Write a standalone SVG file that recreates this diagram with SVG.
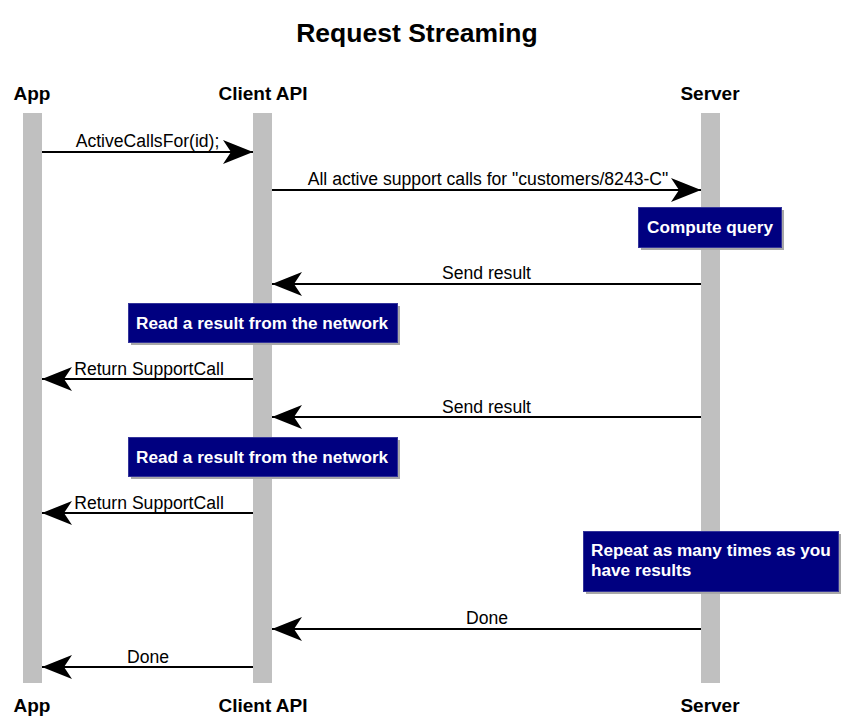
<svg xmlns="http://www.w3.org/2000/svg" width="851" height="723" viewBox="0 0 851 723">
<style>
.title{font-family:"Liberation Sans",Arial,sans-serif;font-weight:bold;font-size:26.5px;fill:#000;text-anchor:middle}
.part{font-family:"Liberation Sans",Arial,sans-serif;font-weight:bold;font-size:19px;fill:#000;text-anchor:middle}
.lbl{font-family:"Liberation Sans",Arial,sans-serif;font-size:17.6px;fill:#000;text-anchor:middle}
.note{font-family:"Liberation Sans",Arial,sans-serif;font-weight:bold;font-size:17.2px;fill:#fff}
.bar{fill:#c0c0c0}
.box{fill:#000080;stroke:#34349a;stroke-width:1}
.shadow{fill:#a8a8a8}
.msg{stroke:#000;stroke-width:2;fill:none;marker-end:url(#ah)}
</style>
<defs>
<marker id="ah" markerUnits="userSpaceOnUse" viewBox="-31 -13 32 26" refX="0" refY="0" markerWidth="32" markerHeight="26" orient="auto">
<path d="M0,0 L-30,-12 L-22,0 L-30,12 Z" fill="#000"/>
</marker>
</defs>
<rect width="851" height="723" fill="#fff"/>
<text class="title" x="417" y="42">Request Streaming</text>

<g id="app">
<text class="part" x="32" y="100">App</text>
<rect class="bar" x="23" y="113" width="19" height="570"/>
<text class="part" x="32" y="712">App</text>
</g>
<g id="client-api">
<text class="part" x="263" y="100">Client API</text>
<rect class="bar" x="253" y="113" width="19" height="570"/>
<text class="part" x="263" y="712">Client API</text>
</g>
<g id="server">
<text class="part" x="710" y="100">Server</text>
<rect class="bar" x="701" y="113" width="19" height="570"/>
<text class="part" x="710" y="712">Server</text>
</g>

<g id="connectors">
<line class="msg" x1="42" y1="152" x2="253" y2="152"/>
<text class="lbl" x="147.5" y="147">ActiveCallsFor(id);</text>
<line class="msg" x1="272" y1="190" x2="701" y2="190"/>
<text class="lbl" x="488" y="185">All active support calls for "customers/8243-C"</text>
<line class="msg" x1="701" y1="284" x2="272" y2="284"/>
<text class="lbl" x="486.5" y="279">Send result</text>
<line class="msg" x1="253" y1="379" x2="42" y2="379"/>
<text class="lbl" x="149" y="375">Return SupportCall</text>
<line class="msg" x1="701" y1="417" x2="272" y2="417"/>
<text class="lbl" x="486.5" y="413">Send result</text>
<line class="msg" x1="253" y1="513" x2="42" y2="513"/>
<text class="lbl" x="149" y="509">Return SupportCall</text>
<line class="msg" x1="701" y1="629" x2="272" y2="629"/>
<text class="lbl" x="487" y="624">Done</text>
<line class="msg" x1="253" y1="667" x2="42" y2="667"/>
<text class="lbl" x="148" y="663">Done</text>
</g>

<g id="note-compute">
<rect class="shadow" x="641" y="210" width="143" height="40"/>
<rect class="box" x="638.5" y="207.5" width="143" height="40"/>
<text class="note" x="647" y="233">Compute query</text>
</g>
<g id="note-read-1">
<rect class="shadow" x="131" y="306" width="269" height="39"/>
<rect class="box" x="128.5" y="303.5" width="269" height="39"/>
<text class="note" x="136" y="329">Read a result from the network</text>
</g>
<g id="note-read-2">
<rect class="shadow" x="131" y="440" width="269" height="39"/>
<rect class="box" x="128.5" y="437.5" width="269" height="39"/>
<text class="note" x="136" y="463">Read a result from the network</text>
</g>
<g id="note-repeat">
<rect class="shadow" x="586" y="534" width="255" height="60"/>
<rect class="box" x="583.5" y="531.5" width="255" height="60"/>
<text class="note" x="591" y="556">Repeat as many times as you</text>
<text class="note" x="591" y="576">have results</text>
</g>
</svg>
